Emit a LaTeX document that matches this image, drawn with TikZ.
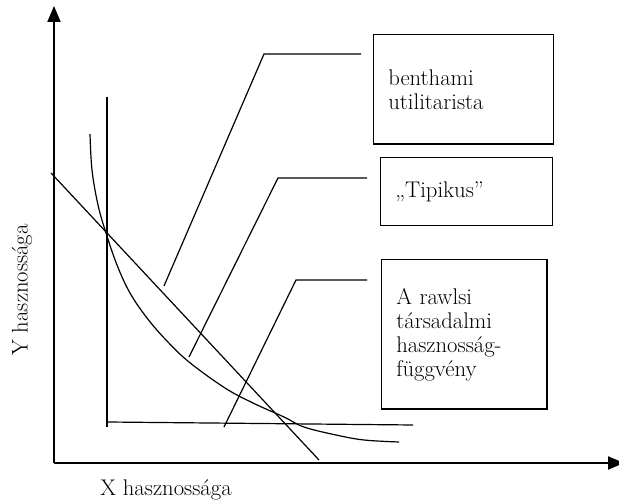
\documentclass[tikz,border=0pt]{standalone}
\usetikzlibrary{arrows}
\usetikzlibrary{positioning}
\begin{document}
\begin{tikzpicture}[x=0.75pt,y=-0.75pt,>=triangle 45,
box/.style={draw,line width=1pt,anchor=north west,align=left,inner xsep=11pt,font=\fontsize{17}{18}\selectfont},
axis/.style={->,line width=1.8pt},
thin line/.style={line width=0.9pt},
label/.style={font=\fontsize{17}{18}\selectfont}]
\useasboundingbox (0,0) rectangle (619,502);

% axes
\coordinate (o) at (54,463);
\coordinate (ytop) at (54,6);
\coordinate (xend) at (624,463);
\draw[axis] (o) -- (ytop);
\draw[axis] (o) -- (xend);
\node[label,rotate=90] (ylab) at (22,290) {Y hasznossága};
\node[label] (xlab) at (166,490) {X hasznossága};

% boxes
\node[box,text width=113pt,minimum height=82pt] (bentham) at (373,34) {benthami\\utilitarista};
\node[box,text width=107pt,minimum height=51pt] (tipikus) at (380,157) {„Tipikus”};
\node[box,text width=102pt,minimum height=112pt] (rawls) at (381,259) {A rawlsi\\társadalmi\\hasznosság-\\függvény};

% rawlsi
\coordinate (r1) at (107,97);
\coordinate (r2) at (107,427);
\coordinate (r3) at (107,422);
\coordinate (r4) at (413,425);
\draw[thin line] (r1) -- (r2);
\draw[thin line] (r3) -- (r4);

% benthami
\coordinate (u1) at (51,173);
\coordinate (u2) at (319,460);
\draw[thin line] (u1) -- (u2);

% tipikus
\draw[thin line] plot[smooth,tension=0.6] coordinates {(90,134) (92,170) (98,205) (106,233) (117,265) (130,293) (147,318) (166,340) (189,362) (225,388) (253,403) (284,417) (304,427) (336,435) (364,440) (399,442)};

% leader lines
\coordinate (b1) at (361,54);
\coordinate (b2) at (264,54);
\coordinate (b3) at (164,286);
\draw[thin line] (b1) -- (b2) -- (b3);
\coordinate (t1) at (367,178);
\coordinate (t2) at (278,178);
\coordinate (t3) at (189,357);
\draw[thin line] (t1) -- (t2) -- (t3);
\coordinate (f1) at (367,280);
\coordinate (f2) at (296,280);
\coordinate (f3) at (224,427);
\draw[thin line] (f1) -- (f2) -- (f3);

\end{tikzpicture}
\end{document}
